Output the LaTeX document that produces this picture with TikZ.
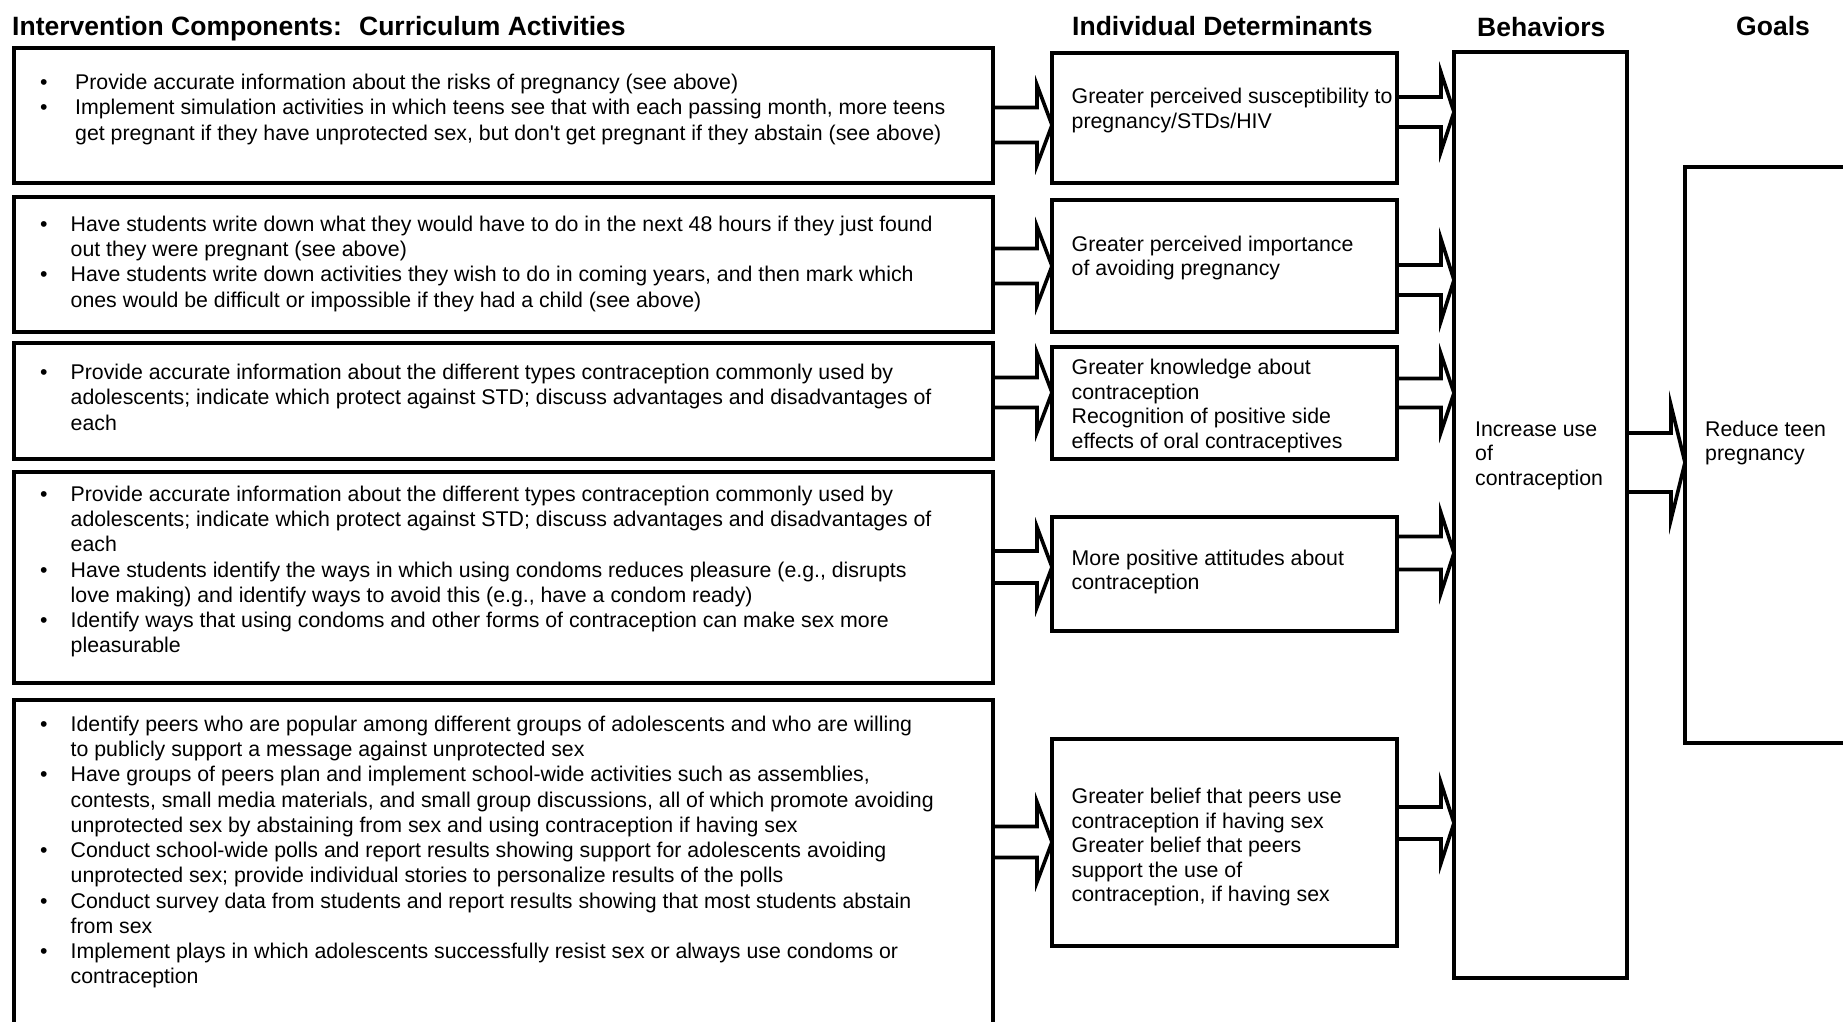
\documentclass[tikz,border=0pt]{standalone}
\usepackage{fontspec}
\setmainfont{Liberation Sans}
\usetikzlibrary{calc}
\tikzset{
  box/.style={draw, line width=3.6pt, rectangle, inner sep=0pt, outer sep=0pt, anchor=north west},
  barrow/.style={draw, line width=3.6pt, line join=miter},
  hdr/.style={anchor=base west, inner sep=0pt, font=\fontsize{26.5}{30}\selectfont\bfseries},
  txt/.style={anchor=base west, inner sep=0pt, font=\fontsize{21.3}{25.25}\selectfont},
  dtxt/.style={anchor=base west, inner sep=0pt, font=\fontsize{21.3}{24.5}\selectfont},
}
\newcommand{\bul}[1]{\makebox[#1][l]{\textbullet}}
\newcommand{\blockarr}[6]{%
  \draw[barrow] let \p1=(#1.east), \p2=(#2.west) in
    (\x1,{(#4-#3)*1pt}) -- ({\x2-#6*1pt},{(#4-#3)*1pt}) -- ({\x2-#6*1pt},{(#5-#3)*1pt})
    -- (\x2,{-#3*1pt}) -- ({\x2-#6*1pt},{(-#5-#3)*1pt}) -- ({\x2-#6*1pt},{(-#4-#3)*1pt})
    -- (\x1,{(-#4-#3)*1pt});
}
\begin{document}
\begin{tikzpicture}[x=1pt,y=1pt]
\useasboundingbox (0,0) rectangle (1843,-1021);
\fill[white] (0,0) rectangle (1843,-1021);
\clip (0,0) rectangle (1843,-1021);

% headers
\node[hdr] (h1) at (12,-35) {Intervention Components:~ Curriculum Activities};
\node[hdr] (h2) at (1072,-35) {Individual Determinants};
\node[hdr] (h3) at (1477,-36.5) {Behaviors};
\node[hdr] (h4) at (1736,-35) {Goals};

% left boxes
\node[box, minimum width=979pt, minimum height=135pt] (l1) at (14,-48) {};
\node[box, minimum width=979pt, minimum height=135pt] (l2) at (14,-197) {};
\node[box, minimum width=979pt, minimum height=116pt] (l3) at (14,-343) {};
\node[box, minimum width=979pt, minimum height=211pt] (l4) at (14,-472) {};
\node[box, minimum width=979pt, minimum height=340pt] (l5) at (14,-700) {};

% determinant boxes
\node[box, minimum width=345pt, minimum height=130pt] (d1) at (1052,-53) {};
\node[box, minimum width=345pt, minimum height=132pt] (d2) at (1052,-200) {};
\node[box, minimum width=345pt, minimum height=112pt] (d3) at (1052,-347) {};
\node[box, minimum width=345pt, minimum height=114pt] (d4) at (1052,-517) {};
\node[box, minimum width=345pt, minimum height=207pt] (d5) at (1052,-739) {};

% behavior and goal boxes
\node[box, minimum width=173pt, minimum height=926pt] (b) at (1454,-52) {};
\node[box, minimum width=185pt, minimum height=576pt] (g) at (1685,-167) {};

% left texts
\node[txt] (t1) at (40,-89.7) {\parbox[t]{960pt}{%
\bul{35pt}Provide accurate information about the risks of pregnancy (see above)\\
\bul{35pt}Implement simulation activities in which teens see that with each passing month, more teens\\
\hspace*{35pt}get pregnant if they have unprotected sex, but don\textquotesingle t get pregnant if they abstain (see above)}};

\node[txt] (t2) at (40,-231.3) {\parbox[t]{960pt}{%
\bul{30.5pt}Have students write down what they would have to do in the next 48 hours if they just found\\
\hspace*{30.5pt}out they were pregnant (see above)\\
\bul{30.5pt}Have students write down activities they wish to do in coming years, and then mark which\\
\hspace*{30.5pt}ones would be difficult or impossible if they had a child (see above)}};

\node[txt] (t3) at (40,-379.7) {\parbox[t]{960pt}{%
\bul{30.5pt}Provide accurate information about the different types contraception commonly used by\\
\hspace*{30.5pt}adolescents; indicate which protect against STD; discuss advantages and disadvantages of\\
\hspace*{30.5pt}each}};

\node[txt] (t4) at (40,-501.3) {\parbox[t]{960pt}{%
\bul{30.5pt}Provide accurate information about the different types contraception commonly used by\\
\hspace*{30.5pt}adolescents; indicate which protect against STD; discuss advantages and disadvantages of\\
\hspace*{30.5pt}each\\
\bul{30.5pt}Have students identify the ways in which using condoms reduces pleasure (e.g., disrupts\\
\hspace*{30.5pt}love making) and identify ways to avoid this (e.g., have a condom ready)\\
\bul{30.5pt}Identify ways that using condoms and other forms of contraception can make sex more\\
\hspace*{30.5pt}pleasurable}};

\node[txt] (t5) at (40,-731.3) {\parbox[t]{960pt}{%
\bul{30.5pt}Identify peers who are popular among different groups of adolescents and who are willing\\
\hspace*{30.5pt}to publicly support a message against unprotected sex\\
\bul{30.5pt}Have groups of peers plan and implement school-wide activities such as assemblies,\\
\hspace*{30.5pt}contests, small media materials, and small group discussions, all of which promote avoiding\\
\hspace*{30.5pt}unprotected sex by abstaining from sex and using contraception if having sex\\
\bul{30.5pt}Conduct school-wide polls and report results showing support for adolescents avoiding\\
\hspace*{30.5pt}unprotected sex; provide individual stories to personalize results of the polls\\
\bul{30.5pt}Conduct survey data from students and report results showing that most students abstain\\
\hspace*{30.5pt}from sex\\
\bul{30.5pt}Implement plays in which adolescents successfully resist sex or always use condoms or\\
\hspace*{30.5pt}contraception}};

% determinant texts
\node[dtxt] (e1) at (1071.5,-103.5) {\parbox[t]{330pt}{Greater perceived susceptibility to\\pregnancy/STDs/HIV}};
\node[dtxt] (e2) at (1071.5,-251.3) {\parbox[t]{330pt}{Greater perceived importance\\of avoiding pregnancy}};
\node[dtxt] (e3) at (1071.5,-374.7) {\parbox[t]{330pt}{Greater knowledge about\\contraception\\Recognition of positive side\\effects of oral contraceptives}};
\node[dtxt] (e4) at (1071.5,-565.2) {\parbox[t]{330pt}{More positive attitudes about\\contraception}};
\node[dtxt] (e5) at (1071.5,-803.7) {\parbox[t]{330pt}{Greater belief that peers use\\contraception if having sex\\Greater belief that peers\\support the use of\\contraception, if having sex}};

% behavior and goal texts
\node[dtxt] (bt) at (1475,-436.3) {\parbox[t]{160pt}{Increase use\\of\\contraception}};
\node[dtxt] (gt) at (1705,-436.3) {\parbox[t]{160pt}{Reduce teen\\pregnancy}};

% block arrows
\blockarr{l1}{d1}{125}{17.5}{40}{15}
\blockarr{l2}{d2}{266}{17.5}{39.5}{15}
\blockarr{l3}{d3}{392.5}{15}{39.5}{15}
\blockarr{l4}{d4}{567}{16}{40}{15}
\blockarr{l5}{d5}{842}{15.5}{40}{15}
\blockarr{d1}{b}{112}{15}{39.5}{13}
\blockarr{d2}{b}{280}{15}{41}{13}
\blockarr{d3}{b}{393}{14.5}{39}{13}
\blockarr{d4}{b}{553}{16.5}{40}{13}
\blockarr{d5}{b}{823}{16}{40}{13}
\blockarr{b}{g}{462.5}{29.5}{57}{14}
\end{tikzpicture}
\end{document}
